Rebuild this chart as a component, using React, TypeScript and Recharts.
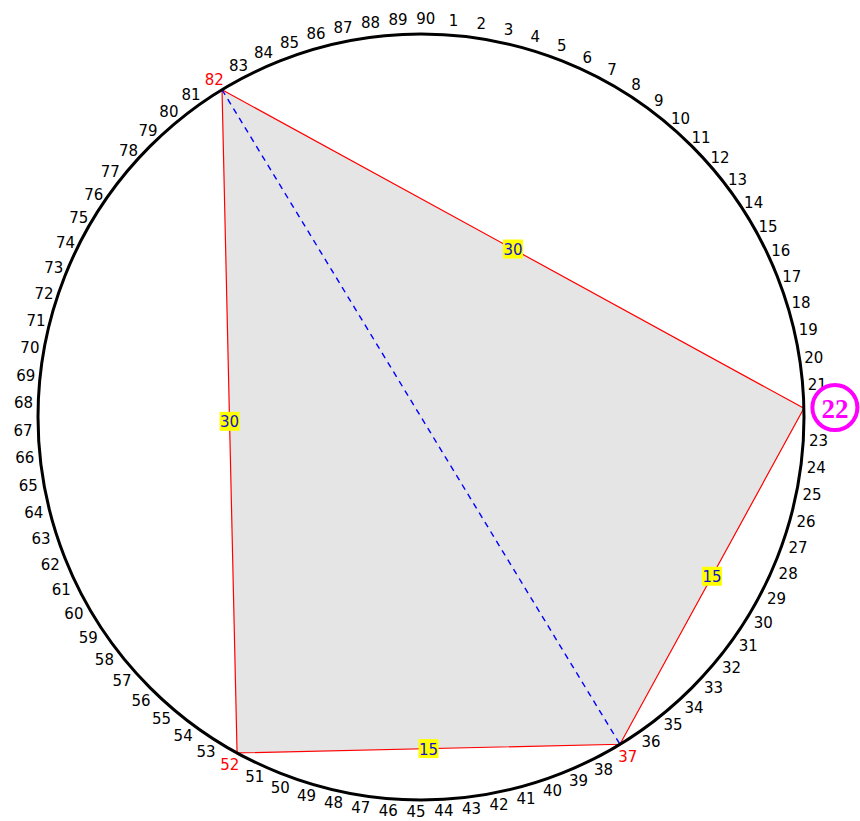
import React from 'react';
import { RadarChart, PolarAngleAxis, PolarRadiusAxis, Radar } from 'recharts';

// Positions around the circle, clockwise from the top
const POINT_LABELS = [
  '90', '1', '2', '3', '4', '5', '6', '7', '8', '9', '10', '11', '12', '13', '14', '15',
  '16', '17', '18', '19', '20', '21', '22', '23', '24', '25', '26', '27', '28', '29', '30',
  '31', '32', '33', '34', '35', '36', '37', '38', '39', '40', '41', '42', '43', '44', '45',
  '46', '47', '48', '49', '50', '51', '52', '53', '54', '55', '56', '57', '58', '59', '60',
  '61', '62', '63', '64', '65', '66', '67', '68', '69', '70', '71', '72', '73', '74', '75',
  '76', '77', '78', '79', '80', '81', '82', '83', '84', '85', '86', '87', '88', '89',
];
// Quadrilateral vertices (in drawing order) and the labels on its edges
const VERTICES = ['82', '22', '37', '52'];
const EDGE_LABELS = ['30', '15', '15', '30'];
// Dashed diagonal
const DIAGONAL = ['82', '37'];
// Highlighted labels
const RED_LABELS = ['82', '37', '52'];
const CIRCLED_LABEL = '22';

const data = POINT_LABELS.map((n) => ({ n, r: 1 }));

const W = 860;
const H = 821;
const CX = 421;
const CY = 417;
const R = 383;

const TICK_FONT = "'DejaVu Sans', 'Liberation Sans', Arial, sans-serif";

const findPoint = (points: any[], n: string) => points.find((p) => p.payload && p.payload.n === n);

const PolygonShape = (props: any) => {
  const pts = VERTICES.map((v) => findPoint(props.points || [], v)).filter(Boolean);
  if (pts.length < VERTICES.length) return <g />;
  const d = pts.map((p: any, i: number) => `${i ? 'L' : 'M'}${p.x},${p.y}`).join(' ') + ' Z';
  return (
    <g>
      <path d={d} fill="#e5e5e5" stroke="#ff0000" strokeWidth={1.2} />
    </g>
  );
};

const EdgeLabelShape = (props: any) => {
  const pts = VERTICES.map((v) => findPoint(props.points || [], v)).filter(Boolean);
  if (pts.length < VERTICES.length) return <g />;
  return (
    <g>
      {pts.map((p: any, i: number) => {
        const q = pts[(i + 1) % pts.length];
        const mx = (p.x + q.x) / 2;
        const my = (p.y + q.y) / 2;
        return (
          <g key={i}>
            <rect x={mx - 10} y={my - 9.5} width={20} height={19} fill="#ffff00" />
            <text
              x={mx}
              y={my + 1}
              textAnchor="middle"
              dominantBaseline="central"
              fontFamily={TICK_FONT}
              fontSize={15}
              fill="#1414c8"
            >
              {EDGE_LABELS[i]}
            </text>
          </g>
        );
      })}
    </g>
  );
};

const DiagonalShape = (props: any) => {
  const pts = DIAGONAL.map((v) => findPoint(props.points || [], v)).filter(Boolean);
  if (pts.length < 2) return <g />;
  return (
    <line
      x1={pts[0].x}
      y1={pts[0].y}
      x2={pts[1].x}
      y2={pts[1].y}
      stroke="#0000ff"
      strokeWidth={1.4}
      strokeDasharray="6 5"
    />
  );
};

const AngleTick = (props: any) => {
  const { x, y, payload } = props;
  const label = String(payload.value);
  const dx = x - CX;
  const dy = y - CY;
  const len = Math.sqrt(dx * dx + dy * dy) || 1;
  const ux = dx / len;
  const uy = dy / len;
  if (label === CIRCLED_LABEL) {
    const px = CX + ux * (R + 31);
    const py = CY + uy * (R + 31);
    return (
      <g>
        <circle cx={px} cy={py} r={22.5} fill="#ffffff" stroke="#ff00ff" strokeWidth={4} />
        <text
          x={px}
          y={py + 1}
          textAnchor="middle"
          dominantBaseline="central"
          fontFamily="'Liberation Serif', 'DejaVu Serif', serif"
          fontWeight="bold"
          fontSize={27}
          fill="#ff00ff"
        >
          {label}
        </text>
      </g>
    );
  }
  const shift = 5 * Math.abs(ux) - 3.5 * Math.max(0, uy);
  return (
    <text
      x={x}
      y={y + shift}
      textAnchor="middle"
      dominantBaseline="central"
      fontFamily={TICK_FONT}
      fontSize={15}
      fill={RED_LABELS.includes(label) ? '#ff0000' : '#000000'}
    >
      {label}
    </text>
  );
};

export default function App() {
  return (
    <div
      style={{
        position: 'absolute',
        left: 0,
        top: 0,
        width: W,
        height: H,
        overflow: 'hidden',
        background: '#ffffff',
      }}
    >
      <RadarChart
        width={W}
        height={H}
        data={data}
        cx={CX}
        cy={CY}
        outerRadius={R}
        startAngle={89.3}
        endAngle={-270.7}
        margin={{ top: 0, right: 0, bottom: 0, left: 0 }}
      >
        <PolarRadiusAxis domain={[0, 1]} tick={false} axisLine={false} />
        <Radar dataKey="r" isAnimationActive={false} shape={PolygonShape} />
        <Radar dataKey="r" isAnimationActive={false} shape={DiagonalShape} />
        <Radar dataKey="r" isAnimationActive={false} shape={EdgeLabelShape} />
        <PolarAngleAxis
          dataKey="n"
          tickLine={false}
          tickSize={15}
          axisLineType="circle"
          axisLine={{ stroke: '#000000', strokeWidth: 3 }}
          tick={AngleTick}
        />
      </RadarChart>
    </div>
  );
}
